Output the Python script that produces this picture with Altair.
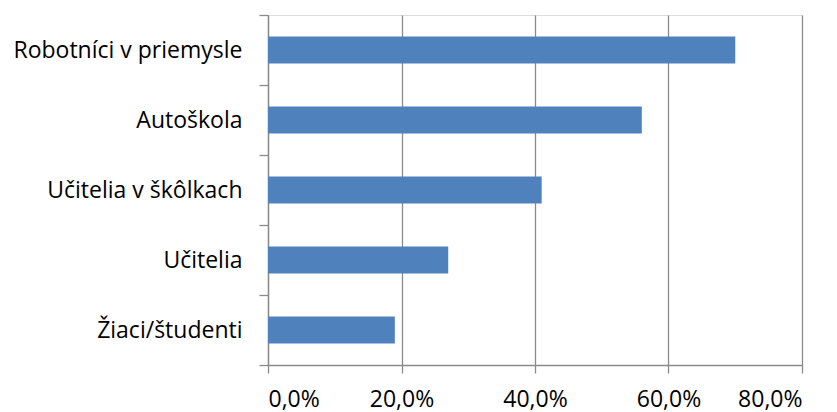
import altair as alt
import pandas as pd

# Share of respondents per group (fractions), listed top to bottom
categories = [
    "Robotníci v priemysle",
    "Autoškola",
    "Učitelia v škôlkach",
    "Učitelia",
    "Žiaci/študenti",
]
shares = [0.70, 0.56, 0.41, 0.27, 0.19]

df = pd.DataFrame({"skupina": categories, "podiel": shares})

FONT = "Open Sans"
GRID = "#8a8a8a"

chart = (
    alt.Chart(df)
    .mark_bar(color="#4F81BD", size=27)
    .encode(
        x=alt.X(
            "podiel:Q",
            scale=alt.Scale(domain=[0, 0.8], nice=False),
            axis=alt.Axis(
                values=[0, 0.2, 0.4, 0.6, 0.8],
                labelExpr="replace(format(datum.value, '.1%'), '.', ',')",
                title=None,
                grid=True,
                gridColor=GRID,
                gridWidth=1.3,
                domainColor=GRID,
                domainWidth=1.3,
                tickColor=GRID,
                tickWidth=1.3,
                tickSize=8,
                labelFont=FONT,
                labelFontSize=23,
                labelColor="#000000",
                labelPadding=15,
            ),
        ),
        y=alt.Y(
            "skupina:N",
            sort=categories,
            scale=alt.Scale(paddingInner=0, paddingOuter=0),
            axis=alt.Axis(
                title=None,
                tickBand="extent",
                domainColor=GRID,
                domainWidth=1.3,
                tickColor=GRID,
                tickWidth=1.3,
                tickSize=9,
                labelFont=FONT,
                labelFontSize=23,
                labelColor="#000000",
                labelPadding=17,
                labelLimit=0,
            ),
        ),
    )
    .properties(
        width=534,
        height=350,
        autosize=alt.AutoSizeParams(type="none"),
        padding={"left": 268, "top": 15, "right": 35, "bottom": 47},
    )
    .configure_view(stroke=None)
    .configure(background="white")
)

chart.save("out.html", embed_options={"renderer": "svg", "actions": False})
